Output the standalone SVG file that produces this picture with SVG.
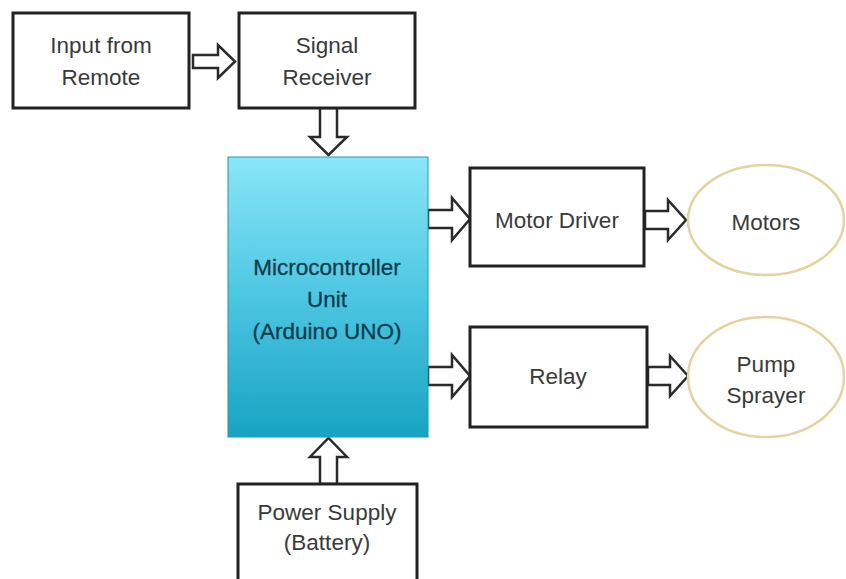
<svg xmlns="http://www.w3.org/2000/svg" width="846" height="579" viewBox="0 0 846 579">
<defs>
<linearGradient id="mcu" x1="0" y1="0" x2="0" y2="1">
<stop offset="0" stop-color="#8ae6f8"/>
<stop offset="0.5" stop-color="#4cc6e2"/>
<stop offset="1" stop-color="#18a3c3"/>
</linearGradient>
<style>
.box{fill:#ffffff;stroke:#222222;stroke-width:3}
.ell{fill:#ffffff;stroke:#e2d5a2;stroke-width:2.5}
.arr{fill:#ffffff;stroke:#2a2a2a;stroke-width:2.5;stroke-linejoin:miter}
.t{font-family:"Liberation Sans",Arial,sans-serif;font-size:22.5px;fill:#3a3a3a;text-anchor:middle}
.tm{font-family:"Liberation Sans",Arial,sans-serif;font-size:22.5px;fill:#0e3c4c;text-anchor:middle;stroke:#0e3c4c;stroke-width:0.3}
</style>
</defs>
<rect width="846" height="579" fill="#ffffff"/>
<g id="connectors">
<path class="arr" d="M193,55 H218 V45 L235,61.5 L218,78 V68 H193 Z"/>
<path class="arr" d="M320,108 V137 H310 L328.5,155 L347,137 H337 V108 Z"/>
<path class="arr" d="M428,210 H452 V198 L470,219 L452,240 V228 H428 Z"/>
<path class="arr" d="M428,367 H452 V355 L470,376 L452,397 V385 H428 Z"/>
<path class="arr" d="M645,211 H668 V200 L686,220 L668,240 V229 H645 Z"/>
<path class="arr" d="M648,367 H670 V356 L688,376 L670,396 V385 H648 Z"/>
<path class="arr" d="M320,484 V457 H310 L328.5,438 L347,457 H337 V484 Z"/>
</g>
<g id="input-remote">
<rect class="box" x="13" y="13" width="176" height="95"/>
<text class="t" x="101" y="53">Input from</text>
<text class="t" x="101" y="85">Remote</text>
</g>
<g id="signal-receiver">
<rect class="box" x="239" y="13" width="176" height="95"/>
<text class="t" x="327" y="53">Signal</text>
<text class="t" x="327" y="85">Receiver</text>
</g>
<g id="mcu">
<rect x="228" y="157" width="200" height="280" fill="url(#mcu)" stroke="#1b9ab8" stroke-width="1"/>
<text class="tm" x="327" y="275">Microcontroller</text>
<text class="tm" x="327" y="307">Unit</text>
<text class="tm" x="327" y="339">(Arduino UNO)</text>
</g>
<g id="motor-driver">
<rect class="box" x="470" y="168" width="174" height="98"/>
<text class="t" x="557" y="228">Motor Driver</text>
</g>
<g id="motors">
<ellipse class="ell" cx="766" cy="220" rx="78" ry="55"/>
<text class="t" x="766" y="230">Motors</text>
</g>
<g id="relay">
<rect class="box" x="470" y="327" width="177" height="100"/>
<text class="t" x="558" y="384">Relay</text>
</g>
<g id="pump-sprayer">
<ellipse class="ell" cx="766" cy="377" rx="78" ry="60"/>
<text class="t" x="766" y="372">Pump</text>
<text class="t" x="766" y="403">Sprayer</text>
</g>
<g id="power-supply">
<rect class="box" x="238" y="484" width="179" height="100"/>
<text class="t" x="327" y="520">Power Supply</text>
<text class="t" x="327" y="550">(Battery)</text>
</g>
</svg>
